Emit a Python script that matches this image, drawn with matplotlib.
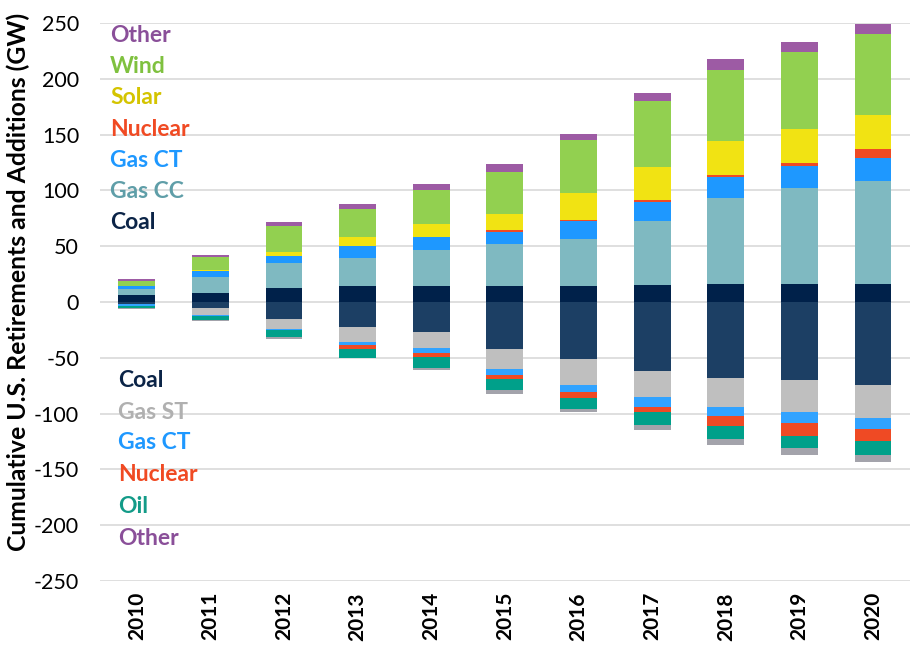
import matplotlib.pyplot as plt
import numpy as np

years = ['2010', '2011', '2012', '2013', '2014', '2015', '2016', '2017', '2018', '2019', '2020']

# cumulative additions (GW)
add_coal = [6.5, 7.7, 12.5, 14.3, 14.3, 14.6, 14.6, 14.9, 16.4, 16.4, 16.4]
add_gas_cc = [5.4, 14.7, 22.4, 25.0, 32.6, 37.0, 42.1, 57.3, 76.8, 85.4, 91.7]
add_gas_ct = [2.0, 5.0, 5.9, 11.0, 11.0, 11.3, 15.5, 17.0, 18.8, 20.0, 20.9]
add_nuclear = [0.0, 0.0, 0.0, 0.0, 0.3, 1.5, 1.5, 1.8, 1.5, 3.0, 7.8]
add_solar = [0.5, 1.5, 4.2, 7.8, 11.3, 14.3, 23.9, 29.6, 30.8, 30.2, 31.1]
add_wind = [4.7, 11.0, 23.3, 25.4, 30.8, 38.2, 47.2, 59.1, 64.0, 69.3, 72.0]
add_other = [1.5, 2.4, 3.6, 3.9, 5.1, 6.9, 6.0, 7.5, 9.0, 8.7, 9.0]

# cumulative retirements (GW)
ret_coal = [1.5, 5.7, 15.6, 22.4, 26.9, 42.0, 51.5, 61.5, 67.8, 70.2, 74.1]
ret_gas_st = [0.5, 5.6, 8.4, 13.7, 14.6, 18.2, 22.7, 23.6, 26.0, 28.7, 29.6]
ret_gas_ct = [1.2, 1.4, 1.5, 2.7, 4.2, 5.2, 6.3, 8.7, 8.7, 9.9, 10.2]
ret_nuclear = [0.0, 0.0, 0.0, 3.6, 3.6, 3.8, 5.1, 5.1, 8.7, 11.0, 11.0]
ret_oil = [2.6, 3.5, 6.3, 7.5, 9.8, 9.7, 9.9, 11.0, 11.4, 11.4, 12.2]
ret_other = [0.7, 0.9, 1.2, 0.5, 1.5, 3.7, 3.3, 4.8, 6.0, 6.0, 6.0]

add_series = [
    ('Coal', add_coal, '#00214a', '#0b2447'),
    ('Gas CC', add_gas_cc, '#7fb9c1', '#5f9ea8'),
    ('Gas CT', add_gas_ct, '#1e98ff', '#1e98ff'),
    ('Nuclear', add_nuclear, '#ef4a24', '#f04a23'),
    ('Solar', add_solar, '#f1e313', '#d4c400'),
    ('Wind', add_wind, '#92d050', '#7fc13f'),
    ('Other', add_other, '#9d5ba4', '#8a4f99'),
]
ret_series = [
    ('Coal', ret_coal, '#1c3f64', '#0b2447'),
    ('Gas ST', ret_gas_st, '#bfbfbf', '#b0b0b0'),
    ('Gas CT', ret_gas_ct, '#31a3ff', '#1e98ff'),
    ('Nuclear', ret_nuclear, '#ef4a24', '#f04a23'),
    ('Oil', ret_oil, '#00a08a', '#139b88'),
    ('Other', ret_other, '#a3a3ab', '#8a4f99'),
]

plt.rcParams['font.family'] = ['Lato', 'DejaVu Sans']
plt.rcParams['axes.unicode_minus'] = False

fig = plt.figure(figsize=(9.12, 6.49), dpi=100)
ax = fig.add_axes([0.1096, 0.1048, 0.888, 0.8598])

x = np.arange(len(years))
width = 0.5

bottom = np.zeros(len(years))
for name, vals, color, _ in add_series:
    vals = np.array(vals)
    ax.bar(x, vals, width, bottom=bottom, color=color, linewidth=0, zorder=3)
    bottom += vals

bottom = np.zeros(len(years))
for name, vals, color, _ in ret_series:
    vals = np.array(vals)
    ax.bar(x, -vals, width, bottom=bottom, color=color, linewidth=0, zorder=3)
    bottom -= vals

# label blocks in place of a legend
top_y = [71, 99, 127, 154.5, 183, 211, 239]
for (name, _, _, tcolor), yy in zip(add_series, top_y):
    ax.text(-0.36, yy, name, color=tcolor, fontsize=16.5, fontweight='bold', va='center', ha='left', zorder=4)

bot_y = [-70, -99, -126, -154.5, -183, -212]
for (name, _, _, tcolor), yy in zip(ret_series, bot_y):
    ax.text(-0.25, yy, name, color=tcolor, fontsize=16.5, fontweight='bold', va='center', ha='left', zorder=4)

ax.set_ylim(-250, 250)
ax.set_xlim(-0.5, len(years) - 0.5)
ax.set_yticks(np.arange(-250, 251, 50))
ax.set_xticks(x)
ax.set_xticklabels(years, rotation=90, fontsize=15, fontweight='bold')
ax.tick_params(axis='y', labelsize=15.5, length=0, pad=15)
ax.tick_params(axis='x', length=0, pad=8)
ax.grid(axis='y', color='#d9d9d9', linewidth=1.2, zorder=0)
ax.set_axisbelow(True)
for s in ax.spines.values():
    s.set_visible(False)

fig.text(0.02, 0.565, 'Cumulative U.S. Retirements and Additions (GW)', rotation=90,
         fontsize=17.8, fontweight='bold', va='center', ha='center')

plt.savefig('out.png', dpi=100)
